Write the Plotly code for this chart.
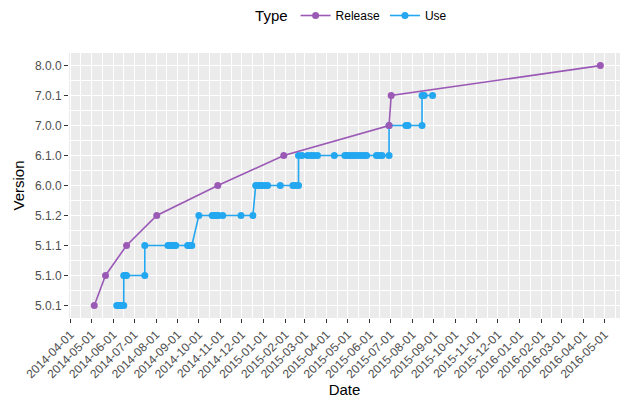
import plotly.graph_objects as go
import pandas as pd

# Version levels (bottom to top)
version_levels = ["5.0.1", "5.1.0", "5.1.1", "5.1.2", "6.0.0", "6.1.0", "7.0.0", "7.0.1", "8.0.0"]

# Release series
release_dates = ["2014-05-05", "2014-05-21", "2014-06-20", "2014-08-02", "2014-10-28",
                 "2015-01-30", "2015-06-29", "2015-07-02", "2016-04-25"]
release_versions = ["5.0.1", "5.1.0", "5.1.1", "5.1.2", "6.0.0",
                    "6.1.0", "7.0.0", "7.0.1", "8.0.0"]

# Use series
use_dates = [
    "2014-06-06", "2014-06-08", "2014-06-10", "2014-06-13", "2014-06-16",
    "2014-06-16", "2014-06-18", "2014-06-20", "2014-07-16",
    "2014-07-16", "2014-08-18", "2014-08-21", "2014-08-24", "2014-08-27", "2014-08-29",
    "2014-09-15", "2014-09-18", "2014-09-21",
    "2014-10-01", "2014-10-20", "2014-10-23", "2014-10-26", "2014-10-29", "2014-11-04",
    "2014-11-30", "2014-12-17",
    "2014-12-21", "2014-12-24", "2014-12-27", "2014-12-30", "2015-01-03", "2015-01-07",
    "2015-01-25", "2015-02-12", "2015-02-16", "2015-02-20",
    "2015-02-20", "2015-02-25", "2015-03-05", "2015-03-10", "2015-03-14", "2015-03-19",
    "2015-04-12", "2015-04-27", "2015-04-30", "2015-05-04", "2015-05-08", "2015-05-12",
    "2015-05-16", "2015-05-20", "2015-05-24", "2015-05-28", "2015-06-11", "2015-06-15",
    "2015-06-19", "2015-06-29",
    "2015-06-29", "2015-07-23", "2015-07-26", "2015-08-15",
    "2015-08-15", "2015-08-18", "2015-08-30",
]
use_versions = (
    ["5.0.1"] * 5
    + ["5.1.0"] * 4
    + ["5.1.1"] * 9
    + ["5.1.2"] * 8
    + ["6.0.0"] * 10
    + ["6.1.0"] * 20
    + ["7.0.0"] * 4
    + ["7.0.1"] * 3
)

level_index = {v: i + 1 for i, v in enumerate(version_levels)}

release_color = "#9B59B6"
use_color = "#22A7F0"

fig = go.Figure()
fig.add_trace(go.Scatter(
    x=pd.to_datetime(use_dates), y=[level_index[v] for v in use_versions],
    mode="lines+markers", name="Use", legendrank=2,
    line=dict(color=use_color, width=1.6),
    marker=dict(color=use_color, size=7),
))
fig.add_trace(go.Scatter(
    x=pd.to_datetime(release_dates), y=[level_index[v] for v in release_versions],
    mode="lines+markers", name="Release", legendrank=1,
    line=dict(color=release_color, width=1.6),
    marker=dict(color=release_color, size=7),
))

# minor grid midway between monthly breaks (ggplot style)
month_starts = pd.date_range("2014-03-01", "2016-07-01", freq="MS")
minor_x = [month_starts[i] + (month_starts[i + 1] - month_starts[i]) / 2 for i in range(len(month_starts) - 1)]

font_family = "Liberation Sans, Arial, sans-serif"
fig.update_layout(
    width=624, height=400,
    margin=dict(l=69, r=4, t=53, b=82),
    paper_bgcolor="white",
    plot_bgcolor="#EBEBEB",
    font=dict(family=font_family, color="#000000"),
    showlegend=True,
    legend=dict(
        orientation="h", xref="container", yref="container",
        x=0.565, xanchor="center", y=0.96, yanchor="middle",
        title=dict(text="Type", side="left", font=dict(size=15, color="#000000")),
        font=dict(size=12, color="#000000"),
        itemwidth=30, bgcolor="rgba(0,0,0,0)",
    ),
    xaxis=dict(
        type="date",
        range=["2014-03-30", "2016-05-23"],
        tick0="2014-04-01", dtick="M1", tickformat="%Y-%m-%d",
        tickangle=-45,
        tickfont=dict(size=12, color="#4D4D4D"),
        ticks="outside", ticklen=4, tickwidth=1, tickcolor="#333333",
        showgrid=True, gridcolor="white", gridwidth=1.1,
        minor=dict(tickvals=minor_x, showgrid=True, gridcolor="white", gridwidth=0.5, ticks=""),
        zeroline=False, showline=False,
        title=dict(text="Date", font=dict(size=15), standoff=2),
        automargin=False,
    ),
    yaxis=dict(
        range=[0.58, 9.42],
        tickvals=list(range(1, len(version_levels) + 1)),
        ticktext=version_levels,
        tickfont=dict(size=12, color="#4D4D4D"),
        ticks="outside", ticklen=4, tickwidth=1, tickcolor="#333333",
        showgrid=True, gridcolor="white", gridwidth=1.1,
        minor=dict(tick0=0.5, dtick=1, showgrid=True, gridcolor="white", gridwidth=0.5, ticks=""),
        zeroline=False, showline=False,
        title=dict(text="Version", font=dict(size=15), standoff=6),
        automargin=False,
    ),
)

fig.write_html("out.html", config={"displayModeBar": False},
               post_script="document.body.style.margin='0';")
